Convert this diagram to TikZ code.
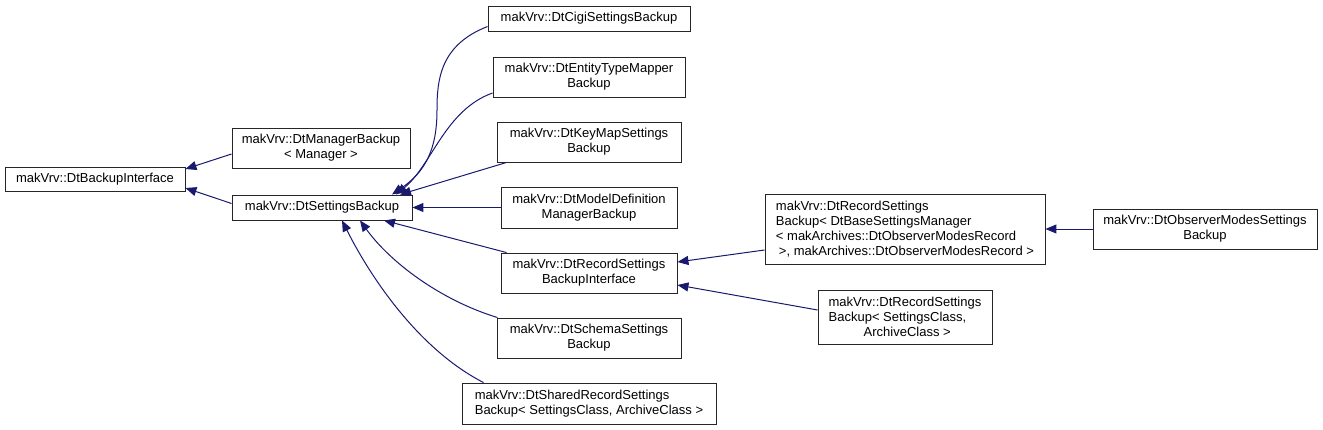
\documentclass[tikz,border=0pt]{standalone}
\usepackage{fontspec}
\setmainfont{Liberation Sans}
\usetikzlibrary{arrows.meta}
\definecolor{edgeblue}{HTML}{191970}
\tikzset{
  cls/.style={draw=black!85,line width=0.9pt,fill=white,inner sep=0pt,
    font=\fontsize{13}{15}\selectfont,align=center},
  clsleft/.style={cls,align=left},
  edge/.style={draw=edgeblue,line width=1pt,-{Triangle[length=11pt,width=9pt]}}
}

\begin{document}
\begin{tikzpicture}[x=1pt,y=-1pt]
    \useasboundingbox (0,0) rectangle (1323,429);

    \node[cls,minimum width=180pt,minimum height=24pt] (bi) at (95,179) {makVrv::DtBackupInterface};
    \node[cls,minimum width=178pt,minimum height=40pt] (mgr) at (321,148) {makVrv::DtManagerBackup\\< Manager >};
    \node[cls,minimum width=180pt,minimum height=25pt] (sb) at (322,207.5) {makVrv::DtSettingsBackup};

    \node[cls,minimum width=202pt,minimum height=25pt] (cigi) at (589,18.5) {makVrv::DtCigiSettingsBackup};
    \node[cls,minimum width=192pt,minimum height=40pt] (etm) at (589,77) {makVrv::DtEntityTypeMapper\\Backup};
    \node[cls,minimum width=184pt,minimum height=40pt] (km) at (589,142) {makVrv::DtKeyMapSettings\\Backup};
    \node[cls,minimum width=176pt,minimum height=41pt] (mdb) at (589,207.5) {makVrv::DtModelDefinition\\ManagerBackup};
    \node[cls,minimum width=176pt,minimum height=40pt] (rsbi) at (589,273) {makVrv::DtRecordSettings\\BackupInterface};
    \node[cls,minimum width=184pt,minimum height=40pt] (schema) at (589,338) {makVrv::DtSchemaSettings\\Backup};
    \node[clsleft,minimum width=254pt,minimum height=41pt] (srs) at (589,403.5) {makVrv::DtSharedRecordSettings\\Backup< SettingsClass, ArchiveClass >};

    \node[clsleft,minimum width=280pt,minimum height=70pt] (rsb1) at (905,229) {makVrv::DtRecordSettings\\Backup< DtBaseSettingsManager\\< makArchives::DtObserverModesRecord\\\hspace*{3pt}>, makArchives::DtObserverModesRecord >};
    \node[clsleft,minimum width=174pt,minimum height=54pt] (rsb2) at (905,317) {makVrv::DtRecordSettings\\Backup< SettingsClass,\\\hspace*{35pt}ArchiveClass >};
    \node[cls,minimum width=224pt,minimum height=40pt] (obs) at (1205,229) {makVrv::DtObserverModesSettings\\Backup};

    \draw[edge] ([yshift=-6pt]mgr.west) -- ([yshift=10pt]bi.east);
    \draw[edge] ([yshift=4pt]sb.west) -- ([yshift=-9pt]bi.east);

    \draw[edge] ([yshift=-8pt]cigi.west) .. controls (440,45) and (437,80) .. (437,110) .. controls (437,150) and (425,172) .. ([xshift=70pt]sb.north);
    \draw[edge] ([yshift=-16pt]etm.west) .. controls (445,110) and (432,165) .. ([xshift=74pt]sb.north);
    \draw[edge] ([xshift=10pt]km.south west) -- ([xshift=78pt]sb.north);
    \draw[edge] (mdb) -- (sb);
    \draw[edge] ([xshift=6pt]rsbi.north west) -- ([xshift=62pt]sb.south);
    \draw[edge] ([xshift=1pt]schema.north west) .. controls (440,300) and (390,262) .. ([xshift=38pt]sb.south);
    \draw[edge] ([xshift=22pt]srs.north west) .. controls (420,350) and (372,280) .. ([xshift=20pt]sb.south);

    \draw[edge] ([yshift=-21pt]rsb1.west) -- ([yshift=11pt]rsbi.east);
    \draw[edge] ([yshift=7pt]rsb2.west) -- ([yshift=-12pt]rsbi.east);
    \draw[edge] (obs) -- (rsb1);
\end{tikzpicture}
\end{document}
